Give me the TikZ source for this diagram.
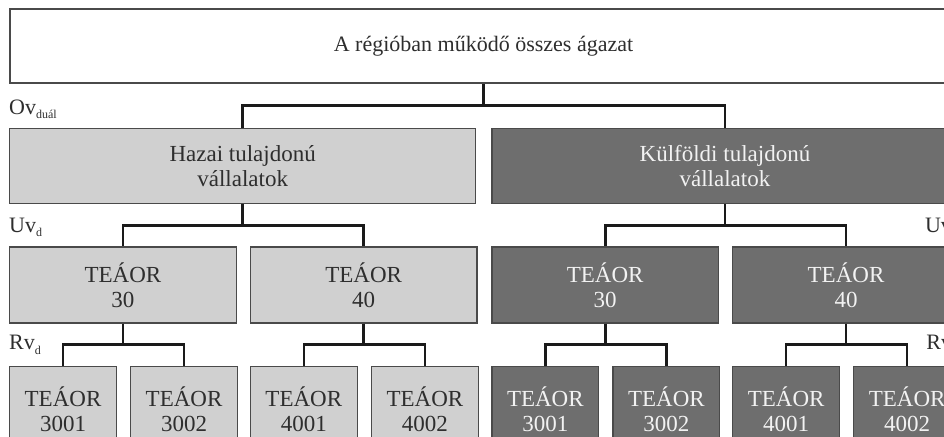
\documentclass[tikz,border=0pt]{standalone}
\usepackage{fontspec}
\setmainfont{Liberation Serif}
\usetikzlibrary{positioning}

\definecolor{lightfill}{HTML}{D0D0D0}
\definecolor{darkfill}{HTML}{6E6E6E}
\definecolor{framegray}{HTML}{4A4A4A}
\definecolor{linedark}{HTML}{1A1A1A}
\definecolor{textdark}{HTML}{2E2E2E}
\definecolor{textlight}{HTML}{F2F2F2}

\newcommand{\szintjel}[2]{#1\raisebox{-4.5pt}{\fontsize{12}{12}\selectfont #2}}

\begin{document}
\begin{tikzpicture}[
            x=1pt, y=1pt,
            node distance=13pt,
            every node/.style={font=\fontsize{23}{25}\selectfont, inner sep=0pt},
            topbox/.style={
                    rectangle,
                    draw=framegray,
                    line width=2pt,
                    fill=white,
                    text=textdark,
                    font=\fontsize{22}{24}\selectfont,
                    minimum width=947pt,
                    minimum height=74pt
                },
            hazaibox/.style={
                    rectangle,
                    draw=framegray,
                    line width=1.3pt,
                    fill=lightfill,
                    text=textdark,
                    align=center
                },
            kulfbox/.style={
                    rectangle,
                    draw=framegray,
                    line width=1.3pt,
                    fill=darkfill,
                    text=textlight,
                    align=center
                },
            fobox/.style={minimum width=466pt, minimum height=75pt},
            agbox/.style={minimum width=226.5pt, minimum height=76pt},
            alagbox/.style={minimum width=106.75pt, minimum height=86pt},
            vonal/.style={
                    line width=2.6pt,
                    draw=linedark
                },
            szint/.style={
                    font=\fontsize{22}{22}\selectfont,
                    text=textdark,
                    anchor=base west
                }
            ]

            \useasboundingbox (0,0) rectangle (944,-436);
            \clip (0,0) rectangle (944,-436);

            % Node fa
            \node (top) [topbox] at (483.5,-46) {A régióban működő összes ágazat};

            \node (hazai) [hazaibox, fobox, below right=44pt and 0pt of top.south west] {Hazai tulajdonú\\vállalatok};
            \node (kulf) [kulfbox, fobox, right=15pt of hazai] {Külföldi tulajdonú\\vállalatok};

            \node (h30) [hazaibox, agbox, below right=42pt and 0pt of hazai.south west] {TEÁOR\\30};
            \node (h40) [hazaibox, agbox, right=of h30] {TEÁOR\\40};
            \node (k30) [kulfbox, agbox, below right=42pt and 0pt of kulf.south west] {TEÁOR\\30};
            \node (k40) [kulfbox, agbox, right=of k30] {TEÁOR\\40};

            \node (h3001) [hazaibox, alagbox, below right=42pt and 0pt of h30.south west] {TEÁOR\\3001};
            \node (h3002) [hazaibox, alagbox, right=of h3001] {TEÁOR\\3002};
            \node (h4001) [hazaibox, alagbox, below right=42pt and 0pt of h40.south west] {TEÁOR\\4001};
            \node (h4002) [hazaibox, alagbox, right=of h4001] {TEÁOR\\4002};
            \node (k3001) [kulfbox, alagbox, below right=42pt and 0pt of k30.south west] {TEÁOR\\3001};
            \node (k3002) [kulfbox, alagbox, right=of k3001] {TEÁOR\\3002};
            \node (k4001) [kulfbox, alagbox, below right=42pt and 0pt of k40.south west] {TEÁOR\\4001};
            \node (k4002) [kulfbox, alagbox, right=of k4001] {TEÁOR\\4002};

            % Szintek
            \node (ov) [szint] at ([yshift=14pt]hazai.north west) {\szintjel{Ov}{duál}};
            \node (uvbal) [szint] at ([yshift=14pt]h30.north west) {\szintjel{Uv}{d}};
            \node (rvbal) [szint] at ([yshift=16pt]h3001.north west) {\szintjel{Rv}{d}};
            \node (uvjobb) [szint] at ([xshift=-35pt, yshift=14pt]k40.north east) {\szintjel{Uv}{d}};
            \node (rvjobb) [szint] at ([xshift=-35pt, yshift=16pt]k4002.north east) {\szintjel{Rv}{d}};

            % Vonalak
            \draw [vonal] (top.south) -- ++(0,-21.5) -| (hazai.north);
            \draw [vonal] (top.south) -- ++(0,-21.5) -| (kulf.north);
            \draw [vonal] (hazai.south) -- ++(0,-21) -| (h30.north);
            \draw [vonal] (hazai.south) -- ++(0,-21) -| (h40.north);
            \draw [vonal] (kulf.south) -- ++(0,-21) -| (k30.north);
            \draw [vonal] (kulf.south) -- ++(0,-21) -| (k40.north);
            \draw [vonal] (h30.south) -- ++(0,-21) -| (h3001.north);
            \draw [vonal] (h30.south) -- ++(0,-21) -| (h3002.north);
            \draw [vonal] (h40.south) -- ++(0,-21) -| (h4001.north);
            \draw [vonal] (h40.south) -- ++(0,-21) -| (h4002.north);
            \draw [vonal] (k30.south) -- ++(0,-21) -| (k3001.north);
            \draw [vonal] (k30.south) -- ++(0,-21) -| (k3002.north);
            \draw [vonal] (k40.south) -- ++(0,-21) -| (k4001.north);
            \draw [vonal] (k40.south) -- ++(0,-21) -| (k4002.north);

        \end{tikzpicture}
\end{document}
